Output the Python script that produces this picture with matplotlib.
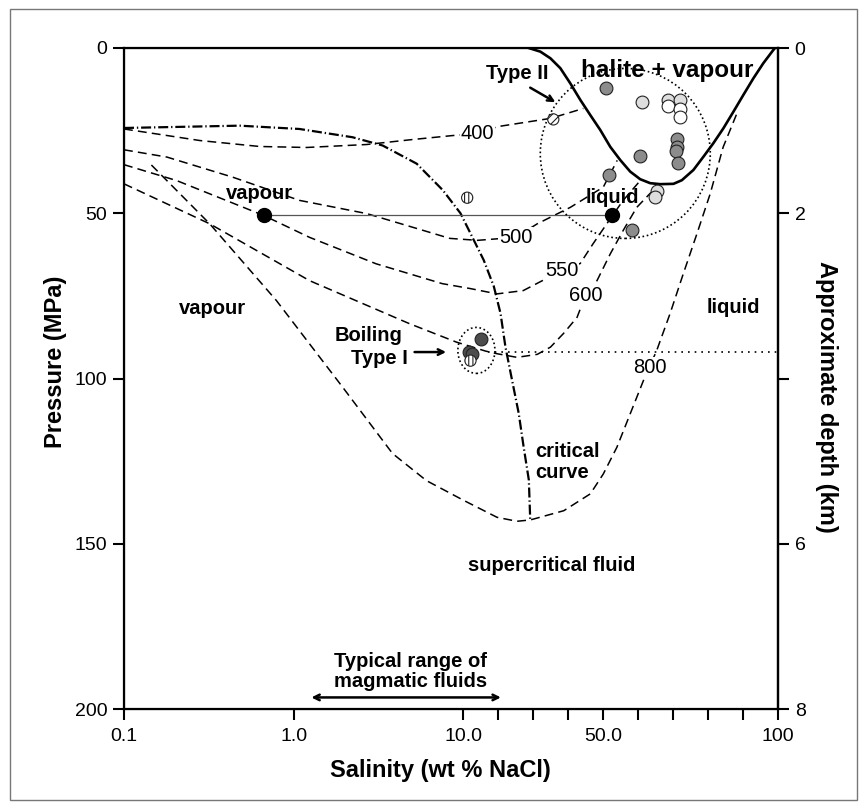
import matplotlib
matplotlib.use("Agg")
import matplotlib.pyplot as plt
import numpy as np
from matplotlib.patches import Ellipse, Rectangle
from matplotlib.transforms import ScaledTranslation

plt.rcParams['font.family'] = ['Liberation Sans', 'DejaVu Sans']
plt.rcParams['hatch.linewidth'] = 0.8

# ---- data (salinity wt% NaCl, pressure MPa) ----
halite_x = [28.66, 32.0, 34.86, 37.71, 40.57, 43.43, 46.29, 49.14, 52.0, 54.86, 57.71, 60.57, 63.43,
            66.29, 70.09, 72.49, 75.8, 78.66, 81.51, 84.37, 87.23, 90.09, 92.94, 95.8, 98.66, 99.14]
halite_p = [0.0, 1.1, 3.1, 6.1, 10.7, 15.7, 20.3, 24.8, 29.9, 33.9, 37.4, 39.7, 40.9,
            41.2, 41.1, 40.0, 36.9, 32.9, 28.8, 24.3, 19.3, 14.2, 9.2, 4.6, 0.6, 0.0]

crit_x = [0.1, 0.48, 1.08, 2.22, 3.34, 5.3, 7.55, 9.6, 12.0, 15.8, 18.7, 20.6, 22.0, 23.9, 25.8, 27.2, 28.7, 29.1]
crit_p = [24.2, 23.5, 24.5, 27.0, 29.5, 35.0, 43.0, 50.0, 56.1, 64.2, 72.2, 80.3, 90.4, 100.5, 110.5, 120.6, 130.7, 142.8]

iso400_x = [0.1, 0.28, 0.63, 1.19, 2.69, 5.0, 8.6, 14.0, 19.7, 34.9, 44.3]
iso400_p = [24.5, 28.0, 29.8, 30.1, 29.2, 27.7, 26.5, 25.9, 23.8, 21.3, 18.3]

iso500_x = [0.1, 0.179, 0.438, 1.08, 2.69, 5.3, 8.3, 14.0, 24.9, 31.1, 40.6, 50.0, 54.0]
iso500_p = [30.8, 33.0, 39.1, 46.1, 50.1, 54.6, 57.6, 58.2, 57.3, 53.2, 48.2, 42.1, 34.0]

iso550_x = [0.1, 0.204, 0.667, 1.24, 3.06, 7.5, 12.0, 19.6, 27.1, 38.2, 43.4, 47.1, 52.5, 55.7, 60.6]
iso550_p = [35.3, 40.1, 50.7, 57.3, 65.3, 71.3, 72.8, 74.4, 73.4, 67.3, 65.2, 59.2, 50.9, 46.1, 40.1]

iso600_x = [0.1, 0.32, 1.24, 4.8, 9.1, 16.3, 19.6, 25.3, 31.1, 34.9, 38.6, 42.5, 44.9, 48.2, 52.0, 55.7, 59.6, 63.4, 66.3]
iso600_p = [41.1, 53.2, 70.4, 83.4, 89.0, 91.7, 92.5, 93.6, 92.7, 90.5, 86.4, 81.5, 74.9, 70.4, 62.3, 55.2, 48.2, 44.0, 41.6]

iso800_x = [0.145, 0.32, 0.79, 1.94, 3.82, 6.05, 10.1, 19.6, 25.3, 29.1, 38.7, 46.3, 50.0, 53.9, 57.7,
            61.5, 65.3, 69.1, 72.9, 76.8, 80.6, 84.3, 88.2]
iso800_p = [35.4, 53.2, 76.4, 102.6, 122.7, 130.9, 136.9, 142.0, 143.2, 142.8, 140.0, 134.9, 128.9, 120.8, 110.7,
            100.6, 91.5, 80.4, 68.3, 56.2, 44.1, 30.0, 19.9]

boil_line_x = [17.0, 100.0]
boil_line_p = [92.0, 92.0]

tie_x = [0.667, 52.5]
tie_p = [50.6, 50.6]

gray_x = [50.8, 60.6, 51.7, 71.1, 71.1, 70.9, 71.4, 58.3]
gray_p = [12.1, 32.8, 38.3, 27.5, 30.0, 31.2, 34.9, 55.2]
light_x = [61.0, 68.5, 72.0, 65.3, 64.9]
light_p = [16.4, 15.7, 15.7, 43.3, 45.1]
white_x = [68.5, 72.0, 72.0]
white_p = [17.4, 18.4, 20.9]
dark_x = [14.9, 11.7, 12.5]
dark_p = [88.1, 91.9, 92.6]
vhatch_x = [11.06, 12.0]
vhatch_p = [45.3, 94.6]
dhatch_x = [35.7]
dhatch_p = [21.6]

iso_labels = ['400', '500', '550', '600', '800']
iso_label_x = [14.0, 24.9, 38.2, 44.9, 63.4]
iso_label_p = [25.9, 57.3, 67.3, 74.9, 96.6]

x_ticks = [0.1, 1, 10, 20, 30, 40, 50, 60, 70, 80, 90, 100]
x_ticklabels = ['0.1', '1.0', '10.0', '', '', '', '50.0', '', '', '', '', '100']
depth_ticks = [0, 2, 4, 6, 8]
depth_ticklabels = ['0', '2', '', '6', '8']

# salinity axis: logarithmic up to 10 wt%, linear from 10 to 100 wt%
K_LIN = (315 / 170) / 90


def fwd(x):
    x = np.asarray(x, dtype=float)
    lg = np.log10(np.clip(x, 1e-9, None))
    return np.where(x <= 10, lg, 1 + (x - 10) * K_LIN)


def inv(u):
    u = np.asarray(u, dtype=float)
    return np.where(u <= 1, 10 ** np.clip(u, -20, 1), 10 + (u - 1) / K_LIN)


def ring(ax, x, p, w_in, h_in):
    tr = ax.figure.dpi_scale_trans + ScaledTranslation(x, p, ax.transData)
    ax.add_patch(Ellipse((0, 0), w_in, h_in, transform=tr, fill=False,
                         ls=(0, (1, 1.6)), lw=1.2, color='k', zorder=3))


def main():
    fig = plt.figure(figsize=(8.65, 8.10), dpi=100)
    ax = fig.add_axes([124 / 865, 1 - 709 / 810, 654 / 865, 661 / 810])
    ax.set_xscale('function', functions=(fwd, inv))
    ax.set_xlim(0.1, 100)
    ax.set_ylim(200, 0)

    dash = (0, (5.8, 3.4))
    kw = dict(color='k', lw=1.1, ls=dash, zorder=2)
    for xs, ps in [(iso400_x, iso400_p), (iso500_x, iso500_p), (iso550_x, iso550_p),
                   (iso600_x, iso600_p), (iso800_x, iso800_p)]:
        ax.plot(xs, ps, **kw)

    ax.plot(crit_x, crit_p, color='k', lw=1.6, ls=(0, (4.5, 1.3, 0.6, 1.3)), zorder=2)
    ax.plot(halite_x, halite_p, color='k', lw=1.9, zorder=2, solid_joinstyle='round')
    ax.plot(boil_line_x, boil_line_p, color='k', lw=1.2, ls=(0, (1, 3)), zorder=2)
    ax.plot(tie_x, tie_p, color='#555555', lw=0.9, zorder=2)

    for lab, x, p in zip(iso_labels, iso_label_x, iso_label_p):
        ax.text(x, p, lab, fontsize=14.5, ha='center', va='center', zorder=3,
                bbox=dict(facecolor='white', edgecolor='none', pad=0.5))

    ring(ax, 56.3, 31.9, 1.70, 1.70)
    ring(ax, 13.7, 91.5, 0.37, 0.46)

    ax.scatter(gray_x, gray_p, s=85, color='#8c8c8c', edgecolor='#222222', lw=0.8, zorder=4)
    ax.scatter(light_x, light_p, s=85, color='#dedede', edgecolor='#222222', lw=0.8, zorder=4)
    ax.scatter(white_x, white_p, s=85, color='white', edgecolor='#222222', lw=0.8, zorder=5)
    ax.scatter(dark_x, dark_p, s=85, color='#4d4d4d', edgecolor='#222222', lw=0.8, zorder=4)
    ax.scatter(vhatch_x, vhatch_p, s=65, color='white', edgecolor='#222222', lw=0.8,
               hatch='||||', zorder=5)
    ax.scatter(dhatch_x, dhatch_p, s=65, color='white', edgecolor='#222222', lw=0.8,
               hatch='////', zorder=5)
    ax.scatter(tie_x, tie_p, s=100, color='black', zorder=5)

    bold = dict(fontweight='bold', ha='center', va='center', zorder=6)
    ax.text(68.4, 6.8, 'halite + vapour', fontsize=17.5, **bold)
    ax.text(25.3, 7.8, 'Type II', fontsize=14.5, **bold)
    ax.text(0.63, 44.1, 'vapour', fontsize=14.5, **bold)
    ax.text(0.333, 78.9, 'vapour', fontsize=14.5, **bold)
    ax.text(52.5, 45.1, 'liquid', fontsize=14.5, **bold)
    ax.text(87.2, 78.4, 'liquid', fontsize=14.5, **bold)
    ax.text(35.3, 156.7, 'supercritical fluid', fontsize=14.5, **bold)
    ax.text(4.37, 87.0, 'Boiling', fontsize=14.5, fontweight='bold', ha='right', va='center')
    ax.text(4.69, 94.0, 'Type I', fontsize=14.5, fontweight='bold', ha='right', va='center')
    ax.text(30.6, 125.2, 'critical\ncurve', fontsize=14.5, fontweight='bold',
            ha='left', va='center', linespacing=1.15)
    ax.text(4.88, 188.6, 'Typical range of\nmagmatic fluids', fontsize=14.5,
            fontweight='bold', ha='center', va='center', linespacing=1.1)

    arrow = dict(arrowstyle='->', color='k', lw=1.8, shrinkA=0, shrinkB=0)
    ax.annotate('', xy=(36.3, 16.4), xytext=(29.1, 12.0), arrowprops=arrow)
    ax.annotate('', xy=(7.9, 92.0), xytext=(5.15, 92.0), arrowprops=arrow)
    ax.annotate('', xy=(20.7, 196.5), xytext=(1.27, 196.5),
                arrowprops=dict(arrowstyle='<->', color='k', lw=1.8, shrinkA=0, shrinkB=0))

    ax.set_xticks(x_ticks)
    ax.set_xticklabels(x_ticklabels)
    ax.minorticks_off()
    ax.set_yticks([0, 50, 100, 150, 200])
    ax.tick_params(axis='both', direction='out', length=8, width=1.5, labelsize=14)
    ax.tick_params(axis='x', pad=6)
    ax.tick_params(axis='y', pad=4)
    for sp in ax.spines.values():
        sp.set_linewidth(1.6)

    ax.set_xlabel('Salinity (wt % NaCl)', fontsize=17, fontweight='bold')
    ax.xaxis.set_label_coords(0.483, -0.075)
    ax.set_ylabel('Pressure (MPa)', fontsize=17, fontweight='bold')
    ax.yaxis.set_label_coords(-0.087, 0.525)

    ax2 = ax.twinx()
    ax2.set_ylim(8, 0)
    ax2.set_yticks(depth_ticks)
    ax2.set_yticklabels(depth_ticklabels)
    ax2.tick_params(axis='y', direction='out', length=8, width=1.5, labelsize=14, pad=4)
    ax2.spines['right'].set_linewidth(1.6)
    ax2.set_ylabel('Approximate depth (km)', fontsize=17, fontweight='bold',
                   rotation=270, va='bottom')
    ax2.yaxis.set_label_coords(1.057, 0.472)

    fig.patches.append(Rectangle((10 / 865, 1 - 800 / 810), 847 / 865, 791 / 810,
                                 transform=fig.transFigure, fill=False,
                                 edgecolor='#777777', lw=1.0))

    fig.savefig('out.png', dpi=100)


if __name__ == "__main__":
    main()
